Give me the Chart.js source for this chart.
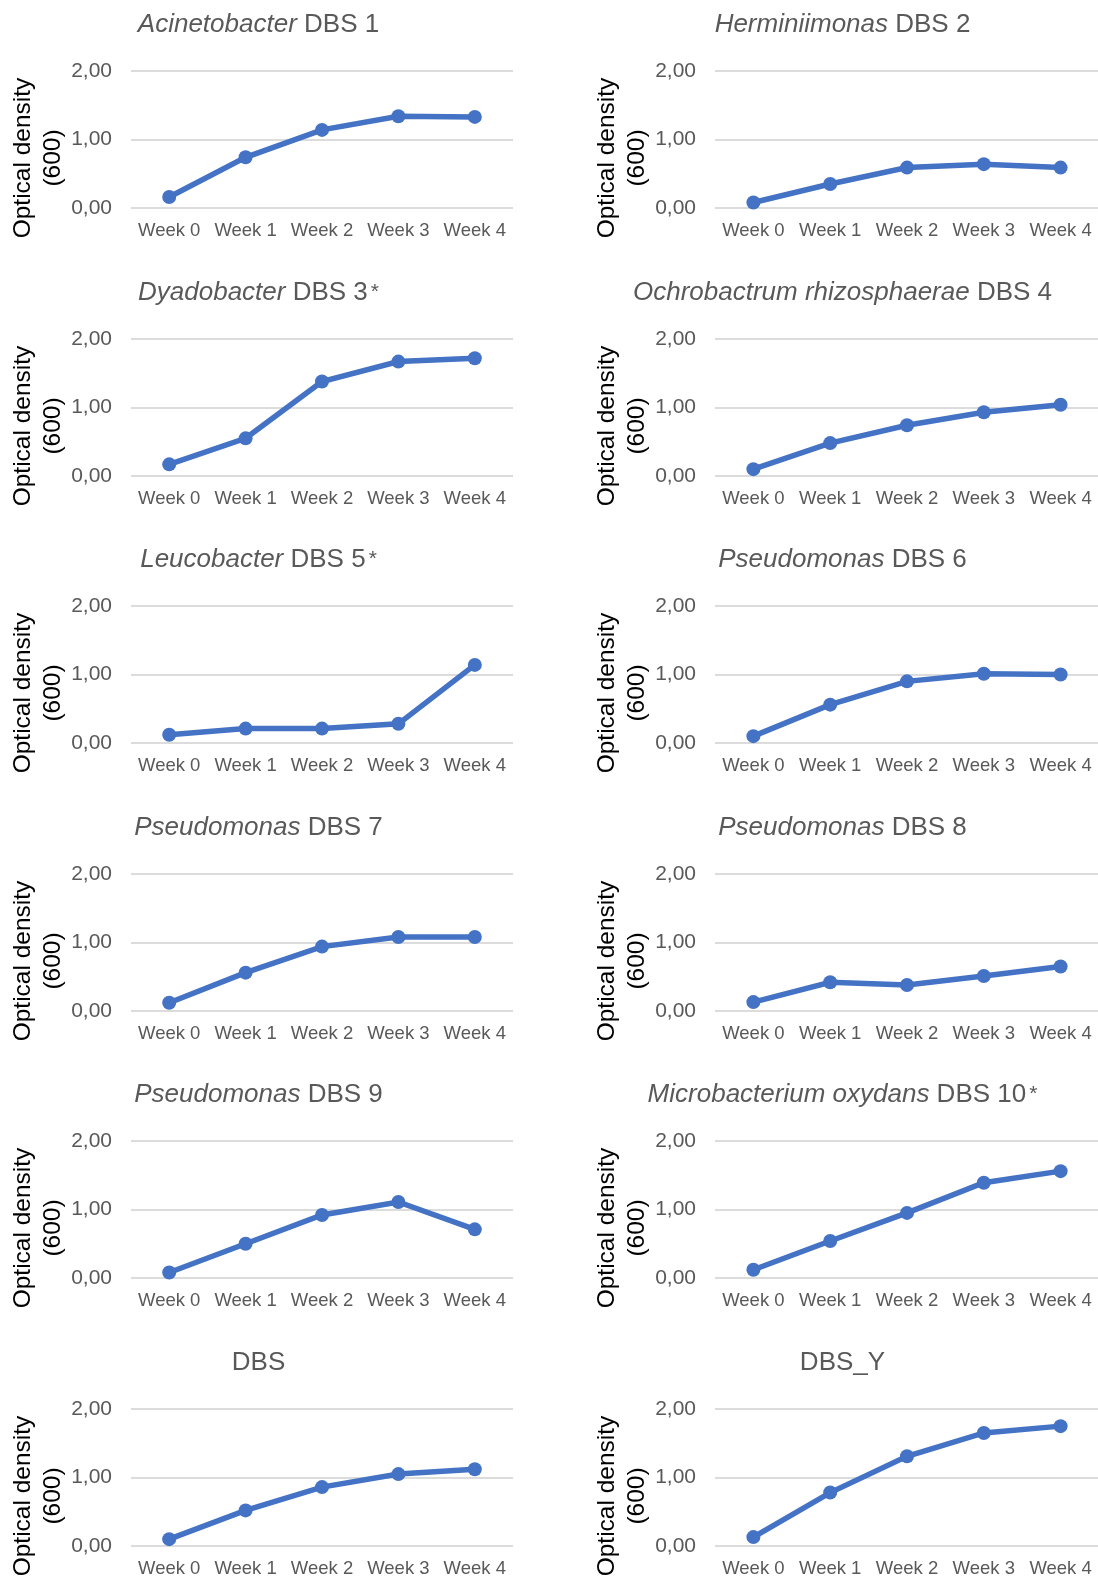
<!DOCTYPE html>
<html>
<head>
<meta charset="utf-8">
<title>Optical density of DBS isolates</title>
<script src="https://cdn.jsdelivr.net/npm/chart.js@4/dist/chart.umd.min.js"></script>
<style>
  html, body { margin: 0; padding: 0; background: #ffffff; overflow: hidden; }
  #grid { position: relative; width: 1098px; height: 1578px; overflow: hidden; }
  #grid canvas { position: absolute; }
</style>
</head>
<body>
<div id="grid"></div>
<script>
// Sampling points and value axis ticks
const weeks = ['Week 0', 'Week 1', 'Week 2', 'Week 3', 'Week 4'];
const densityTicks = [0, 1, 2];

// Optical density (600 nm) per isolate, one value per week
const acinetobacterDBS1 = [0.16, 0.74, 1.14, 1.34, 1.33];
const herminiimonasDBS2 = [0.08, 0.35, 0.59, 0.64, 0.59];
const dyadobacterDBS3 = [0.17, 0.55, 1.38, 1.67, 1.72];
const ochrobactrumDBS4 = [0.10, 0.48, 0.74, 0.93, 1.04];
const leucobacterDBS5 = [0.12, 0.21, 0.21, 0.28, 1.14];
const pseudomonasDBS6 = [0.10, 0.56, 0.90, 1.01, 1.00];
const pseudomonasDBS7 = [0.12, 0.56, 0.94, 1.08, 1.08];
const pseudomonasDBS8 = [0.13, 0.42, 0.38, 0.51, 0.65];
const pseudomonasDBS9 = [0.08, 0.50, 0.92, 1.11, 0.71];
const microbacteriumDBS10 = [0.12, 0.54, 0.95, 1.39, 1.56];
const consortiumDBS = [0.10, 0.52, 0.86, 1.05, 1.12];
const consortiumDBSY = [0.13, 0.78, 1.31, 1.65, 1.75];

// Panel titles: italic genus/species part, plain strain part, significance mark
const titleItalic = ['Acinetobacter', 'Herminiimonas', 'Dyadobacter', 'Ochrobactrum rhizosphaerae',
  'Leucobacter', 'Pseudomonas', 'Pseudomonas', 'Pseudomonas', 'Pseudomonas',
  'Microbacterium oxydans', '', ''];
const titlePlain = ['DBS 1', 'DBS 2', 'DBS 3', 'DBS 4', 'DBS 5', 'DBS 6', 'DBS 7', 'DBS 8',
  'DBS 9', 'DBS 10', 'DBS', 'DBS_Y'];
const titleMark = ['', '', '*', '', '*', '', '', '', '', '*', '', ''];

const panelSeries = [acinetobacterDBS1, herminiimonasDBS2, dyadobacterDBS3, ochrobactrumDBS4,
  leucobacterDBS5, pseudomonasDBS6, pseudomonasDBS7, pseudomonasDBS8, pseudomonasDBS9,
  microbacteriumDBS10, consortiumDBS, consortiumDBSY];

const yAxisTitle = ['Optical density', '(600)'];

const FONT = '"Liberation Sans", Arial, Helvetica, sans-serif';
const BLUE = '#4472c4';
const GREY_TEXT = '#595959';

// left column panels stop short of the gap; right column runs to the page edge
const PANEL_W = [520, 522];
const PANEL_H = 268;
const COL_STEP = 584;
const ROW_STEP = 267.6;

// Draws the mixed-style panel title and the two-line rotated value axis title
const panelText = {
  id: 'panelText',
  afterDraw(chart, args, opts) {
    const ctx = chart.ctx;
    ctx.save();
    // title
    const y = 32;
    const cx = 258.5;
    const italicFont = 'italic 26px ' + FONT;
    const plainFont = '26px ' + FONT;
    const markFont = '21px ' + FONT;
    const italic = opts.italic ? opts.italic + ' ' : '';
    ctx.font = italicFont;
    const wI = italic ? ctx.measureText(italic).width : 0;
    ctx.font = plainFont;
    const wP = ctx.measureText(opts.plain).width;
    ctx.font = markFont;
    const markGap = 3;
    const wM = opts.mark ? ctx.measureText(opts.mark).width + markGap : 0;
    let x = cx - (wI + wP + wM) / 2;
    ctx.fillStyle = GREY_TEXT;
    ctx.textBaseline = 'alphabetic';
    ctx.textAlign = 'left';
    if (italic) {
      ctx.font = italicFont;
      ctx.fillText(italic, x, y);
      x += wI;
    }
    ctx.font = plainFont;
    ctx.fillText(opts.plain, x, y);
    x += wP;
    if (opts.mark) {
      ctx.font = markFont;
      ctx.fillText(opts.mark, x + markGap, y - 2);
    }
    // value axis title, rotated
    ctx.fillStyle = '#000000';
    ctx.font = '24.5px ' + FONT;
    ctx.textAlign = 'center';
    ctx.textBaseline = 'middle';
    const lineX = [23, 53];
    yAxisTitle.forEach((line, i) => {
      ctx.save();
      ctx.translate(lineX[i], 158);
      ctx.rotate(-Math.PI / 2);
      ctx.fillText(line, 0, 0);
      ctx.restore();
    });
    ctx.restore();
  }
};

const host = document.getElementById('grid');

panelSeries.forEach((series, i) => {
  const col = i % 2;
  const row = Math.floor(i / 2);
  const canvas = document.createElement('canvas');
  canvas.width = PANEL_W[col];
  canvas.height = PANEL_H;
  canvas.style.width = PANEL_W[col] + 'px';
  canvas.style.height = PANEL_H + 'px';
  canvas.style.left = (col * COL_STEP) + 'px';
  canvas.style.top = Math.round(row * ROW_STEP) + 'px';
  host.appendChild(canvas);

  new Chart(canvas, {
    type: 'line',
    data: {
      labels: weeks,
      datasets: [{
        data: series,
        borderColor: BLUE,
        backgroundColor: BLUE,
        borderWidth: 5.5,
        tension: 0,
        pointRadius: 7,
        pointHoverRadius: 7,
        pointBackgroundColor: BLUE,
        pointBorderColor: BLUE,
        pointBorderWidth: 0,
        fill: false,
        clip: false
      }]
    },
    options: {
      responsive: false,
      animation: false,
      devicePixelRatio: 1,
      layout: { padding: { top: 71, right: col ? 0 : 2, bottom: 0, left: 0 } },
      plugins: {
        legend: { display: false },
        tooltip: { enabled: false },
        title: { display: false },
        panelText: { italic: titleItalic[i], plain: titlePlain[i], mark: titleMark[i] }
      },
      scales: {
        x: {
          offset: true,
          grid: { display: false, drawTicks: false },
          border: { display: false },
          ticks: {
            color: GREY_TEXT,
            // tall line box places the label centre ~23px below the plot
            font: { family: FONT, size: 18.5, lineHeight: 2.49 },
            padding: 0,
            maxRotation: 0,
            autoSkip: false
          },
          afterFit(scale) {
            scale.height = 60;
            scale.paddingLeft = 0;
            scale.paddingRight = 0;
          }
        },
        y: {
          min: 0,
          max: 2,
          afterBuildTicks(scale) { scale.ticks = densityTicks.map(v => ({ value: v })); },
          grid: { color: '#dcdcdc', lineWidth: 2, drawTicks: false },
          border: { display: false },
          ticks: {
            color: GREY_TEXT,
            font: { family: FONT, size: 21 },
            padding: 19,
            callback: v => Number(v).toFixed(2).replace('.', ',')
          },
          afterFit(scale) { scale.width = 131; }
        }
      }
    },
    plugins: [panelText]
  });
});
</script>
</body>
</html>
